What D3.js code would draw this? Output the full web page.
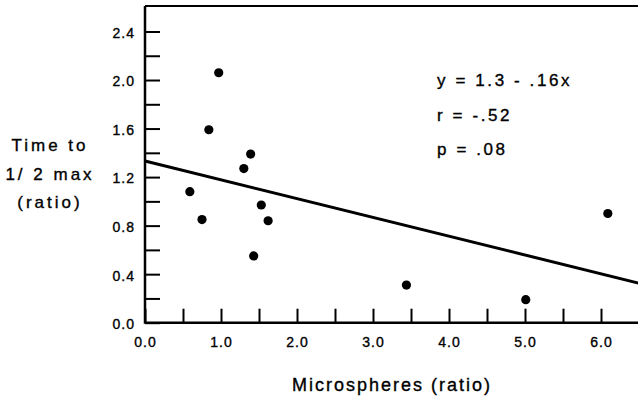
<!DOCTYPE html>
<html>
  <head>
    <meta charset="utf-8">
    <script src="https://d3js.org/d3.v7.min.js" charset="utf-8"></script>
    <style>
      body { margin: 0; background: #fff; }
      text { font-family: "Liberation Sans", Arial, sans-serif; fill: #000; stroke: #000; stroke-width: 0.35px; }
    </style>
  </head>
  <body>
    <script type="text/javascript">

// microspheres ratio (x) vs time to 1/2 max ratio (y)
var microspheres = [0.97, 0.84, 1.39, 1.30, 0.59, 0.75, 1.53, 1.62, 1.43, 3.44, 5.01, 6.09];
var timeHalfMax  = [2.06, 1.59, 1.39, 1.27, 1.08, 0.85, 0.97, 0.84, 0.55, 0.31, 0.19, 0.90];

// fitted line as drawn
var fitIntercept = 1.333;
var fitSlope = -0.155;

var xTicks = d3.range(0, 6.01, 0.5);
var yTicks = d3.range(0, 2.41, 0.2);
var statsText = ["y = 1.3 - .16x", "r = -.52", "p = .08"];
var yTitle = ["Time to", "1/ 2 max", "(ratio)"];
var xTitle = "Microspheres (ratio)";

var w = 638;
var h = 397;

var x = d3.scaleLinear().domain([0, 6.5]).range([145, 639]);
var y = d3.scaleLinear().domain([0, 2.61]).range([322.7, 6]);

var svg = d3.select("body")
  .append("svg")
  .attr("width", w)
  .attr("height", h);

// x axis, ticks pointing up
var xAxis = d3.axisBottom(x)
  .tickValues(xTicks)
  .tickSize(-14)
  .tickPadding(14)
  .tickFormat(function(d) { return Math.abs(d % 1) < 1e-9 ? d3.format(".1f")(d) : ""; });

var gx = svg.append("g")
  .attr("transform", "translate(0," + y(0) + ")")
  .call(xAxis);
gx.select(".domain").remove();
gx.selectAll(".tick line").attr("stroke", "#000").attr("stroke-width", 2);
gx.selectAll(".tick text")
  .style("font-size", "14px")
  .style("letter-spacing", "1px")
  .attr("dy", "0.76em");

// y axis, ticks pointing right
var yAxis = d3.axisLeft(y)
  .tickValues(yTicks)
  .tickSize(-15)
  .tickPadding(10)
  .tickFormat(function(d) { return Math.round(d * 10) % 4 === 0 ? d3.format(".1f")(d) : ""; });

var gy = svg.append("g")
  .attr("transform", "translate(" + x(0) + ",0)")
  .call(yAxis);
gy.select(".domain").remove();
gy.selectAll(".tick line").attr("stroke", "#000").attr("stroke-width", 2);
gy.selectAll(".tick text")
  .style("font-size", "14px")
  .style("letter-spacing", "1px")
  .attr("dy", "0.42em");

// frame lines
svg.append("line")
  .attr("x1", x(0)).attr("x2", w)
  .attr("y1", y(0)).attr("y2", y(0))
  .attr("stroke", "#000").attr("stroke-width", 2.5);
svg.append("line")
  .attr("x1", x(0)).attr("x2", x(0))
  .attr("y1", y(0) + 1).attr("y2", y(2.61))
  .attr("stroke", "#000").attr("stroke-width", 2.5);
svg.append("line")
  .attr("x1", x(0)).attr("x2", w)
  .attr("y1", y(2.61)).attr("y2", y(2.61))
  .attr("stroke", "#000").attr("stroke-width", 2);

// regression line
svg.append("line")
  .attr("x1", x(0)).attr("y1", y(fitIntercept))
  .attr("x2", x(6.5)).attr("y2", y(fitIntercept + fitSlope * 6.5))
  .attr("stroke", "#000")
  .attr("stroke-width", 3);

// points
svg.selectAll("circle.pt")
  .data(microspheres)
  .enter()
  .append("circle")
  .attr("class", "pt")
  .attr("cx", function(d) { return x(d); })
  .attr("cy", function(d, i) { return y(timeHalfMax[i]); })
  .attr("r", 4.6)
  .attr("fill", "#000");

// stats text
svg.selectAll("text.stat")
  .data(statsText)
  .enter()
  .append("text")
  .attr("class", "stat")
  .attr("x", 437)
  .attr("y", function(d, i) { return 86 + i * 34.5; })
  .style("font-size", "17px")
  .style("letter-spacing", "2.6px")
  .text(function(d) { return d; });

// y title
svg.selectAll("text.ytitle")
  .data(yTitle)
  .enter()
  .append("text")
  .attr("class", "ytitle")
  .attr("x", 50)
  .attr("y", function(d, i) { return 151 + i * 28.5; })
  .attr("text-anchor", "middle")
  .style("font-size", "17px")
  .style("letter-spacing", "3px")
  .text(function(d) { return d; });

// x title
svg.append("text")
  .attr("x", 392)
  .attr("y", 391)
  .attr("text-anchor", "middle")
  .style("font-size", "18px")
  .style("letter-spacing", "2px")
  .text(xTitle);

    </script>
  </body>
</html>
